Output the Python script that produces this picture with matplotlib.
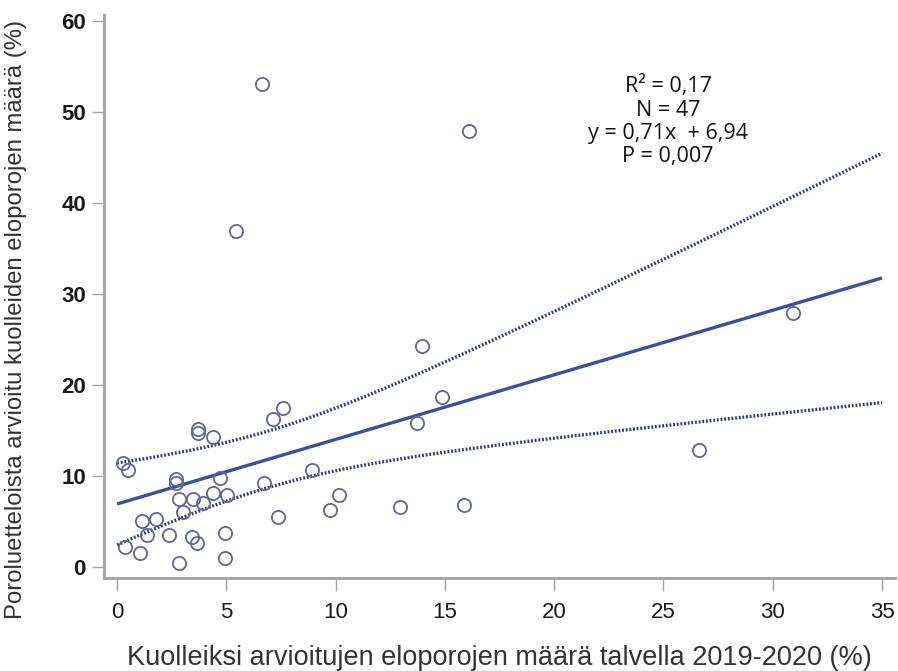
import numpy as np
import matplotlib
matplotlib.use("Agg")
import matplotlib.pyplot as plt

# Kuolleiksi arvioitujen eloporojen määrä talvella 2019-2020 (%)
x_talvi = [6.64, 16.12, 5.45, 30.92, 13.95, 14.87, 7.61, 7.15, 13.73, 3.71,
           3.71, 4.40, 26.62, 0.28, 0.51, 8.93, 2.70, 2.70, 4.72, 6.73,
           2.84, 3.48, 3.94, 4.40, 5.04, 10.14, 3.02, 1.14, 1.79, 9.76,
           12.96, 15.87, 7.38, 1.37, 2.38, 3.43, 3.66, 4.95, 0.37, 1.05,
           2.81, 4.95]
# Poroluetteloista arvioitu kuolleiden eloporojen määrä (%)
y_luettelo = [53.1, 47.9, 37.0, 27.9, 24.3, 18.7, 17.5, 16.3, 15.8, 15.2,
              14.7, 14.3, 12.9, 11.4, 10.7, 10.7, 9.7, 9.2, 9.8, 9.2,
              7.5, 7.5, 7.1, 8.2, 7.9, 7.9, 6.1, 5.1, 5.3, 6.3,
              6.6, 6.8, 5.5, 3.5, 3.5, 3.3, 2.6, 3.7, 2.2, 1.6,
              0.5, 1.0]

# Regressiotulokset
n_havainnot = 47
kulmakerroin = 0.71
vakio = 6.94
r2_teksti = "R² = 0,17"
n_teksti = "N = 47"
yhtalo_teksti = "y = 0,71x  + 6,94"
p_teksti = "P = 0,007"

x_ticks = [0, 5, 10, 15, 20, 25, 30, 35]
y_ticks = [0, 10, 20, 30, 40, 50, 60]

x = np.asarray(x_talvi)
y = np.asarray(y_luettelo)

# Sovitettu suora ja sen 95 %:n luottamusväli
xs = np.linspace(0, 35, 200)
fit = vakio + kulmakerroin * xs
resid = y - (vakio + kulmakerroin * x)
s = np.sqrt(np.sum(resid ** 2) / (len(x) - 2))
# neliösumma skaalattuna koko aineiston kokoon (päällekkäiset havainnot)
sxx = np.sum((x - x.mean()) ** 2) * n_havainnot / len(x)
t_crit = 2.014
half = t_crit * s * np.sqrt(1.0 / n_havainnot + (xs - x.mean()) ** 2 / sxx)

fig = plt.figure(figsize=(8.98, 6.71), dpi=100)
ax = fig.add_axes([0.1158, 0.1386, 0.881, 0.839])

line_col = "#3d4f9b"
band_col = "#2d3a75"
ax.plot(xs, fit, color=line_col, lw=2.4, solid_capstyle="butt", zorder=3)
ax.plot(xs, fit + half, color=band_col, lw=2.4, ls=(0, (0.55, 0.55)), zorder=3)
ax.plot(xs, fit - half, color=band_col, lw=2.4, ls=(0, (0.55, 0.55)), zorder=3)
ax.plot(x, y, ls="none", marker="o", ms=9.5, mfc="none", mec="#62678f",
        mew=1.3, zorder=4)

ax.set_xlim(-0.6, 35.6)
ax.set_ylim(-1.2, 60.7)
ax.set_xticks(x_ticks)
ax.set_yticks(y_ticks)

for side in ("top", "right"):
    ax.spines[side].set_visible(False)
for side in ("left", "bottom"):
    ax.spines[side].set_color("#a6a6a6")
    ax.spines[side].set_linewidth(2.2)

ax.tick_params(axis="both", direction="out", length=9, width=1.0,
               color="#a6a6a6")
ax.tick_params(axis="x", pad=8)
ax.tick_params(axis="y", pad=4)
for lab in ax.get_xticklabels():
    lab.set_fontfamily("Liberation Sans")
    lab.set_fontsize(16)
    lab.set_color("#1a1a1a")
for lab in ax.get_yticklabels():
    lab.set_fontfamily("Liberation Sans")
    lab.set_fontsize(16)
    lab.set_fontweight("bold")
    lab.set_color("#1a1a1a")

ax.set_xlabel("Kuolleiksi arvioitujen eloporojen määrä talvella 2019-2020 (%)",
              fontsize=19.5, family="Liberation Sans", color="#333333", labelpad=16)
ax.set_ylabel("Poroluetteloista arvioitu kuolleiden eloporojen määrä (%)",
              fontsize=17.2, family="Liberation Sans", color="#333333")
ax.yaxis.set_label_coords(-0.097, 0.46)

stats = "\n".join([r2_teksti, n_teksti, yhtalo_teksti, p_teksti])
ax.text(0.713, 0.893, stats, transform=ax.transAxes, ha="center", va="top",
        fontsize=15.5, family="Open Sans", color="#111111", linespacing=1.15)

fig.savefig("out.png", dpi=100)
